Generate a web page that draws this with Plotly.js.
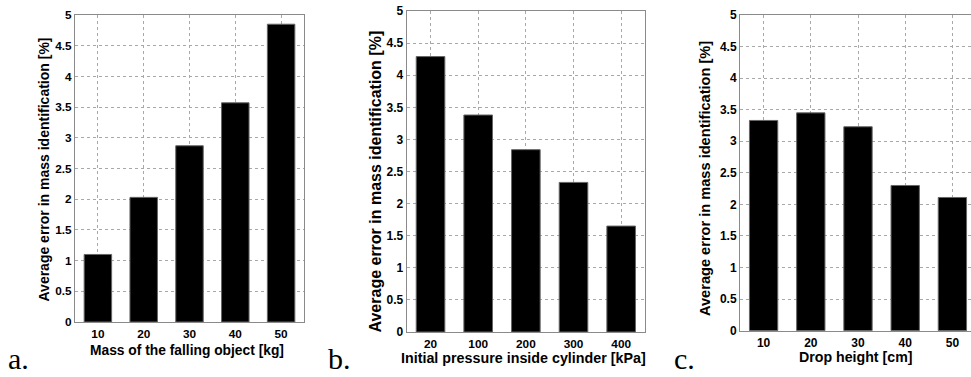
<!DOCTYPE html>
<html>
<head>
<meta charset="utf-8">
<script src="https://cdn.plot.ly/plotly-3.0.1.min.js"></script>
<style>html,body{margin:0;padding:0;background:#fff;}#chart{width:971px;height:377px;}</style>
</head>
<body>
<div id="chart"></div>
<script>
// Data
const massCategories = ["10", "20", "30", "40", "50"];
const massErrors = [1.10, 2.03, 2.87, 3.57, 4.85];
const pressureCategories = ["20", "100", "200", "300", "400"];
const pressureErrors = [4.29, 3.38, 2.84, 2.33, 1.65];
const heightCategories = ["10", "20", "30", "40", "50"];
const heightErrors = [3.33, 3.45, 3.23, 2.30, 2.11];
const yTickValues = [0, 0.5, 1, 1.5, 2, 2.5, 3, 3.5, 4, 4.5, 5];
const yTickLabels = ["0", "0.5", "1", "1.5", "2", "2.5", "3", "3.5", "4", "4.5", "5"];
const yTitle = "Average error in mass identification [%]";
const xTitles = ["Mass of the falling object [kg]", "Initial pressure inside cylinder [kPa]", "Drop height [cm]"];
const panelLabels = ["a.", "b.", "c."];

const W = 971, H = 377;
const px = v => v / W;
const py = v => 1 - v / H;

const barStyle = {color: "#000000", line: {color: "#666666", width: 1}};
function bar(x, y, xa, ya) {
  return {type: "bar", x: x, y: y, xaxis: xa, yaxis: ya, marker: barStyle, width: 0.6, hoverinfo: "x+y"};
}
const data = [
  bar(massCategories, massErrors, "x", "y"),
  bar(pressureCategories, pressureErrors, "x2", "y2"),
  bar(heightCategories, heightErrors, "x3", "y3")
];

const tickFont = s => ({family: "Liberation Sans, Arial, sans-serif", size: s, color: "#000", weight: "bold"});
const gridStyle = {showgrid: true, gridcolor: "#a8a8a8", griddash: "dot", gridwidth: 1};
function xAxis(domain, anchor, range, fs) {
  return Object.assign({
    domain: domain, anchor: anchor, type: "category", range: range,
    showline: true, linecolor: "#8a8a8a", linewidth: 1, mirror: true,
    ticks: "", ticklabelstandoff: 1, tickfont: tickFont(fs), zeroline: false, automargin: false, fixedrange: true
  }, gridStyle);
}
function yAxis(domain, anchor, mirror, fs) {
  return Object.assign({
    domain: domain, anchor: anchor, range: [0, 5], tickvals: yTickValues, ticktext: yTickLabels,
    showline: true, linecolor: "#8a8a8a", linewidth: 1, mirror: mirror,
    ticks: "", ticklabelstandoff: 0, tickfont: tickFont(fs), zeroline: false, automargin: false, fixedrange: true
  }, gridStyle);
}

const titleFont = s => ({family: "Liberation Sans, Arial, sans-serif", size: s, color: "#000", weight: "bold"});
const labelFont = {family: "Liberation Serif, DejaVu Serif, serif", size: 30, color: "#000"};

const annotations = [
  // y-axis titles
  {text: yTitle, x: px(43), y: py(169.5), textangle: -90, font: titleFont(14)},
  {text: yTitle, x: px(375), y: py(181.5), textangle: -90, font: titleFont(16)},
  {text: yTitle, x: px(705), y: py(179), textangle: -90, font: titleFont(14.6)},
  // x-axis titles
  {text: xTitles[0], x: px(186.5), y: py(350.5), font: titleFont(13.8)},
  {text: xTitles[1], x: px(523.5), y: py(358), font: titleFont(14.3)},
  {text: xTitles[2], x: px(856), y: py(357), font: titleFont(14.2)},
  // panel labels
  {text: panelLabels[0], x: px(6), y: 0, xanchor: "left", yanchor: "bottom", font: labelFont},
  {text: panelLabels[1], x: px(326), y: 0, xanchor: "left", yanchor: "bottom", font: labelFont},
  {text: panelLabels[2], x: px(672), y: 0, xanchor: "left", yanchor: "bottom", font: labelFont}
].map(a => Object.assign({xref: "paper", yref: "paper", showarrow: false, xanchor: "center", yanchor: "middle"}, a));

const layout = {
  width: W, height: H,
  margin: {l: 0, r: 0, t: 0, b: 0},
  paper_bgcolor: "#ffffff", plot_bgcolor: "#ffffff",
  showlegend: false, bargap: 0.4,
  xaxis: xAxis([px(75), px(304)], "y", [-0.5, 4.5], 11.8),
  yaxis: yAxis([py(322), py(15)], "x", true, 11.8),
  xaxis2: xAxis([px(406.7), px(645)], "y2", [-0.5, 4.5], 11.8),
  yaxis2: yAxis([py(332), py(11)], "x2", true, 12),
  xaxis3: xAxis([px(740), 1], "y3", [-0.5, 4.394], 12),
  yaxis3: yAxis([py(330.7), py(15)], "x3", false, 12),
  annotations: annotations
};

Plotly.newPlot("chart", data, layout, {displayModeBar: false, staticPlot: true});
</script>
</body>
</html>
